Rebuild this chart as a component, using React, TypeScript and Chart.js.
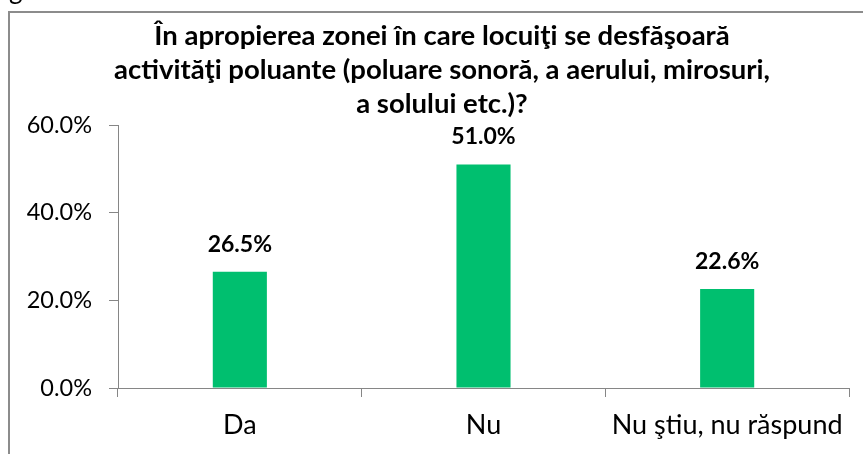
import React, { useEffect, useRef } from "react";
import { Chart, registerables } from "chart.js";

Chart.register(...registerables);

const titleLines = [
  "În apropierea zonei în care locuiţi se desfăşoară",
  "activităţi poluante (poluare sonoră, a aerului, mirosuri,",
  "a solului etc.)?",
];
const categories = ["Da", "Nu", "Nu ştiu, nu răspund"];
const values = [26.5, 51.0, 22.6];
const yTicks = [0, 20, 40, 60];

const BAR_COLOR = "#00BF6F";
const AXIS_COLOR = "#868686";
const FONT = "Lato";

export default function App() {
  const ref = useRef<HTMLCanvasElement | null>(null);

  useEffect(() => {
    if (!ref.current) return;

    const framePlugin = {
      id: "frame",
      beforeDraw(chart: any) {
        const ctx = chart.ctx;
        ctx.save();
        ctx.fillStyle = "#fff";
        ctx.fillRect(0, 0, chart.width, chart.height);
        ctx.strokeStyle = "#8c8c8c";
        ctx.lineWidth = 2;
        ctx.beginPath();
        ctx.moveTo(9, chart.height + 5);
        ctx.lineTo(9, 12);
        ctx.lineTo(chart.width + 5, 12);
        ctx.stroke();
        ctx.fillStyle = "#000";
        ctx.font = `26px ${FONT}`;
        ctx.textBaseline = "alphabetic";
        ctx.fillText("g", 9, -1);
        ctx.restore();
      },
    };

    const titleShift = {
      id: "titleShift",
      afterLayout(chart: any) {
        const t = chart.titleBlock;
        if (t) {
          t.left += 13.5;
          t.right += 13.5;
        }
      },
    };

    const valueLabels = {
      id: "valueLabels",
      afterDatasetsDraw(chart: any) {
        const ctx = chart.ctx;
        const meta = chart.getDatasetMeta(0);
        ctx.save();
        ctx.font = `bold 23px ${FONT}`;
        ctx.fillStyle = "#000";
        ctx.textAlign = "center";
        ctx.textBaseline = "middle";
        meta.data.forEach((bar: any, i: number) => {
          ctx.fillText(values[i].toFixed(1) + "%", bar.x, bar.y - 27.5);
        });
        ctx.restore();
      },
    };

    const chart = new Chart(ref.current, {
      type: "bar",
      data: {
        labels: categories,
        datasets: [
          {
            data: values,
            backgroundColor: BAR_COLOR,
            borderWidth: 0,
            categoryPercentage: 1,
            barPercentage: 0.222,
          },
        ],
      },
      options: {
        animation: false,
        responsive: false,
        maintainAspectRatio: false,
        devicePixelRatio: 1,
        layout: { padding: { left: 8, right: 14, top: 12, bottom: 0 } },
        plugins: {
          legend: { display: false },
          tooltip: { enabled: false },
          title: {
            display: true,
            text: titleLines,
            color: "#000",
            font: { family: FONT, size: 27.5, weight: "bold", lineHeight: 34 / 27.5 },
            padding: { top: 7, bottom: 4 },
          },
        },
        scales: {
          x: {
            afterFit(scale: any) {
              scale.height = 66;
            },
            grid: {
              offset: true,
              drawOnChartArea: false,
              drawTicks: true,
              tickLength: 9,
              color: AXIS_COLOR,
            },
            border: { display: true, color: AXIS_COLOR, width: 1 },
            ticks: {
              color: "#000",
              font: { family: FONT, size: 27, lineHeight: 1.2 },
              padding: 12,
              maxRotation: 0,
              autoSkip: false,
            },
          },
          y: {
            min: 0,
            max: 60,
            afterFit(scale: any) {
              scale.width = 110;
            },
            afterBuildTicks(scale: any) {
              scale.ticks = yTicks.map((v) => ({ value: v }));
            },
            grid: {
              drawOnChartArea: false,
              drawTicks: true,
              tickLength: 9,
              color: AXIS_COLOR,
            },
            border: { display: true, color: AXIS_COLOR, width: 1 },
            ticks: {
              color: "#000",
              font: { family: FONT, size: 23.5 },
              padding: 17,
              callback: (v: any) => Number(v).toFixed(1) + "%",
            },
          },
        },
      },
      plugins: [framePlugin, titleShift, valueLabels],
    });

    return () => chart.destroy();
  }, []);

  return (
    <div
      style={{
        position: "fixed",
        left: 0,
        top: 0,
        width: 863,
        height: 454,
        overflow: "hidden",
        background: "#fff",
      }}
    >
      <canvas ref={ref} width={863} height={454} style={{ width: 863, height: 454, display: "block" }} />
    </div>
  );
}
